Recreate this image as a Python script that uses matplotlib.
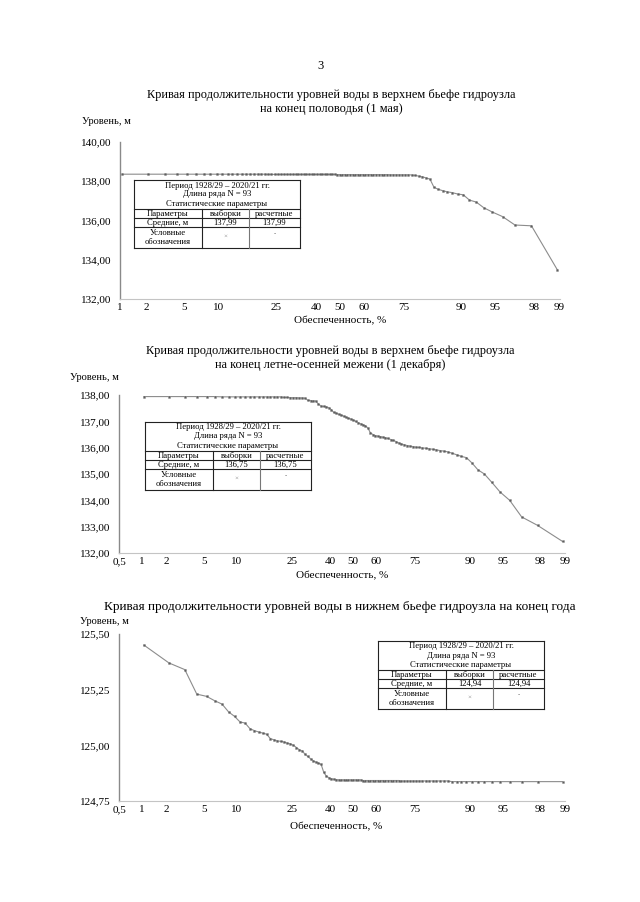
import matplotlib
matplotlib.use("Agg")
import matplotlib.pyplot as plt
from matplotlib.lines import Line2D
from statistics import NormalDist
import numpy as np

plt.rcParams['font.family'] = ['Liberation Serif', 'DejaVu Serif']

# ---------------- data ----------------
N = 93
period_text = "Период 1928/29 – 2020/21 гг."
length_text = "Длина ряда N = 93"

prob_ticks = [0.5, 1, 2, 5, 10, 25, 40, 50, 60, 75, 90, 95, 98, 99]
prob_tick_labels = ["0,5", "1", "2", "5", "10", "25", "40", "50", "60", "75", "90", "95", "98", "99"]

titles = [
    "Кривая продолжительности уровней воды в верхнем бьефе гидроузла\nна конец половодья (1 мая)",
    "Кривая продолжительности уровней воды в верхнем бьефе гидроузла\nна конец летне-осенней межени (1 декабря)",
    "Кривая продолжительности уровней воды в нижнем бьефе гидроузла на конец года",
]

means_sample = ["137,99", "136,75", "124,94"]
means_calc = ["137,99", "136,75", "124,94"]

# Upper pool, 1 May (sorted descending)
levels_may = (
    [138.36] * 20 + [138.35] * 25 + [138.34] * 20 + [138.33] * 7 +
    [138.32, 138.30, 138.26, 138.23, 138.17, 138.11, 137.69, 137.59, 137.52,
     137.46, 137.42, 137.35, 137.31, 137.04, 136.94, 136.65, 136.43, 136.20,
     135.77, 135.73, 133.48]
)

# Upper pool, 1 December
levels_dec = (
    [137.94] * 6 + [137.93] * 14 +
    [137.91, 137.91, 137.90, 137.90, 137.90, 137.89, 137.89,
     137.88, 137.80, 137.79, 137.78, 137.77, 137.65, 137.58, 137.57, 137.55,
     137.52, 137.44, 137.34, 137.31, 137.27, 137.24, 137.20, 137.16, 137.12,
     137.09, 137.05, 137.00, 136.95, 136.91, 136.87, 136.83, 136.75, 136.57,
     136.50, 136.46, 136.44, 136.42, 136.40, 136.38, 136.35, 136.31, 136.28,
     136.23, 136.18, 136.14, 136.11, 136.08, 136.06, 136.04, 136.02, 136.01,
     135.99, 135.98, 135.96, 135.94, 135.92, 135.89, 135.87, 135.84, 135.79,
     135.73, 135.67, 135.62, 135.42, 135.16, 135.00, 134.69, 134.32, 134.00,
     133.37, 133.05, 132.44]
)

# Lower pool, end of year
levels_low = (
    [125.45, 125.37, 125.34, 125.23, 125.22, 125.20, 125.185, 125.15, 125.13,
     125.105, 125.10, 125.075, 125.066, 125.06, 125.055, 125.05, 125.03,
     125.025, 125.02, 125.018, 125.015, 125.01, 125.007, 125.00, 124.99,
     124.98, 124.975, 124.96, 124.95, 124.94, 124.93, 124.925, 124.92,
     124.915, 124.88, 124.862, 124.855, 124.85, 124.848, 124.846] +
    [124.845] * 10 + [124.842] * 15 + [124.840] * 15 + [124.837] * 13
)

y_ticks_may = [132, 134, 136, 138, 140]
y_labels_may = ["132,00", "134,00", "136,00", "138,00", "140,00"]
y_ticks_dec = [132, 133, 134, 135, 136, 137, 138]
y_labels_dec = ["132,00", "133,00", "134,00", "135,00", "136,00", "137,00", "138,00"]
y_ticks_low = [124.75, 125.00, 125.25, 125.50]
y_labels_low = ["124,75", "125,00", "125,25", "125,50"]

# ---------------- figure ----------------
W, H = 640, 902
fig = plt.figure(figsize=(W / 100, H / 100), dpi=100)
fig.patch.set_facecolor("white")


def fx(x):
    return x / W


def fy(y):
    return 1 - y / H


nd = NormalDist()


def z(p):
    return nd.inv_cdf(p / 100.0)


ranks = np.arange(1, N + 1)
exceed = ranks / (N + 1) * 100
xz = np.array([z(p) for p in exceed])

fig.text(fx(320), fy(66), "3", ha="center", va="center", fontsize=9)

charts = [
    dict(levels=levels_may, yt=y_ticks_may, yl=y_labels_may, ylim=(132, 140),
         box=(120, 142, 560, 299), pmin=1, ticks=prob_ticks[1:], tlabels=prob_tick_labels[1:],
         title=titles[0], tfs=8.9, title_xy=(331, 102), ylab_xy=(82, 122), xlab_xy=(340, 321),
         table=(134, 180), mi=0),
    dict(levels=levels_dec, yt=y_ticks_dec, yl=y_labels_dec, ylim=(132, 138),
         box=(119, 395, 565, 553), pmin=0.5, ticks=prob_ticks, tlabels=prob_tick_labels,
         title=titles[1], tfs=8.9, title_xy=(330, 358), ylab_xy=(70, 377), xlab_xy=(342, 576),
         table=(145, 422), mi=1),
    dict(levels=levels_low, yt=y_ticks_low, yl=y_labels_low, ylim=(124.75, 125.5),
         box=(119, 634, 565, 801), pmin=0.5, ticks=prob_ticks, tlabels=prob_tick_labels,
         title=titles[2], tfs=9.5, title_xy=(340, 607), ylab_xy=(80, 621), xlab_xy=(336, 827),
         table=(378, 641), mi=2),
]


def draw_table(tx, ty, mi):
    w, h = 166, 68
    c1, c2 = 68, 115
    col = "#222222"
    lw = 0.8

    def hline(y, x0=0, x1=w, c=col):
        fig.add_artist(Line2D([fx(tx + x0), fx(tx + x1)], [fy(ty + y), fy(ty + y)],
                              color=c, lw=lw, transform=fig.transFigure))

    def vline(x, y0, y1, c=col):
        fig.add_artist(Line2D([fx(tx + x), fx(tx + x)], [fy(ty + y0), fy(ty + y1)],
                              color=c, lw=lw, transform=fig.transFigure))

    hline(0); hline(h); vline(0, 0, h); vline(w, 0, h)
    hline(29.3); hline(38.3); hline(47.3)
    vline(c1, 29.3, h); vline(c2, 29.3, h, c="#777777")
    fs = 6.2
    cx = tx + w / 2
    fig.text(fx(cx), fy(ty + 5.5), period_text, ha="center", va="center", fontsize=fs)
    fig.text(fx(cx), fy(ty + 14.5), length_text, ha="center", va="center", fontsize=fs)
    fig.text(fx(cx), fy(ty + 23.7), "Статистические параметры", ha="center", va="center", fontsize=fs)
    m1 = tx + c1 / 2
    m2 = tx + (c1 + c2) / 2
    m3 = tx + (c2 + w) / 2
    fig.text(fx(m1), fy(ty + 33.8), "Параметры", ha="center", va="center", fontsize=fs)
    fig.text(fx(m2), fy(ty + 33.8), "выборки", ha="center", va="center", fontsize=fs)
    fig.text(fx(m3), fy(ty + 33.8), "расчетные", ha="center", va="center", fontsize=fs)
    fig.text(fx(m1), fy(ty + 42.8), "Средние, м", ha="center", va="center", fontsize=fs)
    fig.text(fx(m2), fy(ty + 42.8), means_sample[mi], ha="center", va="center", fontsize=fs)
    fig.text(fx(m3), fy(ty + 42.8), means_calc[mi], ha="center", va="center", fontsize=fs)
    fig.text(fx(m1), fy(ty + 57.6), "Условные\nобозначения", ha="center", va="center",
             fontsize=fs, linespacing=1.1)
    fig.text(fx(m2), fy(ty + 56), "×", ha="center", va="center", fontsize=5, color="#888888")
    fig.text(fx(m3), fy(ty + 56), ".", ha="center", va="bottom", fontsize=6, color="#333333")


for c in charts:
    x0, y0, x1, y1 = c["box"]
    ax = fig.add_axes([fx(x0), fy(y1), fx(x1) - fx(x0), fy(y0) - fy(y1)])
    ax.set_facecolor("none")
    ax.set_xlim(z(c["pmin"]) - 0.002, z(99) + 0.004)
    ax.set_ylim(*c["ylim"])
    ax.plot(xz, c["levels"], color="#8c8c8c", lw=0.8, zorder=2)
    ax.plot(xz, c["levels"], ls="none", marker="x", ms=1.8, mew=0.4, color="#9a9a9a", zorder=3)
    ax.plot(xz, c["levels"], ls="none", marker=".", ms=1.1, color="#555555", zorder=4)
    ax.set_xticks([z(p) for p in c["ticks"]])
    ax.set_xticklabels(c["tlabels"], fontsize=8)
    ax.set_yticks(c["yt"])
    ax.set_yticklabels(c["yl"], fontsize=8)
    ax.tick_params(axis="both", length=0)
    ax.tick_params(axis="x", pad=3)
    ax.tick_params(axis="y", pad=6)
    for s in ["top", "right"]:
        ax.spines[s].set_visible(False)
    ax.spines["left"].set_color("#8a8a8a")
    ax.spines["left"].set_linewidth(1.0)
    ax.spines["bottom"].set_color("#c4c4c4")
    ax.spines["bottom"].set_linewidth(0.8)

    tx, ty = c["title_xy"]
    fig.text(fx(tx), fy(ty), c["title"], ha="center", va="center", fontsize=c["tfs"], linespacing=1.2)
    lx, ly = c["ylab_xy"]
    fig.text(fx(lx), fy(ly), "Уровень, м", ha="left", va="center", fontsize=7.5)
    xx, xy = c["xlab_xy"]
    fig.text(fx(xx), fy(xy), "Обеспеченность, %", ha="center", va="center", fontsize=8)
    draw_table(c["table"][0], c["table"][1], c["mi"])

fig.savefig("out.png", dpi=100, facecolor="white")
